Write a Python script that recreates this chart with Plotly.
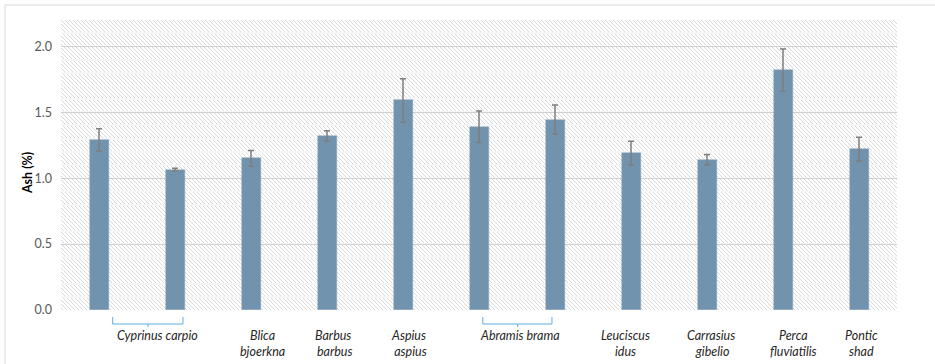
import base64
import plotly.graph_objects as go

# ---- data ----
species = ["Cyprinus carpio", "Cyprinus carpio", "Blica bjoerkna", "Barbus barbus",
           "Aspius aspius", "Abramis brama", "Abramis brama", "Leuciscus idus",
           "Carrasius gibelio", "Perca fluviatilis", "Pontic shad"]
ash = [1.29, 1.065, 1.15, 1.32, 1.59, 1.39, 1.445, 1.19, 1.14, 1.82, 1.22]
ash_err = [0.085, 0.01, 0.06, 0.04, 0.165, 0.12, 0.11, 0.09, 0.04, 0.16, 0.09]
y_ticks = [0.0, 0.5, 1.0, 1.5, 2.0]
y_tick_labels = ["0.0", "0.5", "1.0", "1.5", "2.0"]

# single-species labels (index, two-line text, pixel shift)
single_labels = [
    (2, "Blica<br>bjoerkna", 11),
    (3, "Barbus<br> barbus", 6),
    (4, "Aspius<br> aspius", 6),
    (7, "Leuciscus<br>idus", -6),
    (8, "Carrasius<br> gibelio", 4),
    (9, "Perca<br>fluviatilis", 10),
    (10, "Pontic<br>shad", 2),
]
# grouped labels (text, bracket start, bracket end, text centre, bracket tick) in category units
group_labels = [
    ("Cyprinus carpio", 0.18, 1.105, 0.77, 0.645),
    ("Abramis brama", 5.05, 5.96, 5.54, 5.51),
]

x = list(range(len(ash)))
W, H = 935, 364
ML, MR, MT, MB = 61, 38, 20, 54
PW, PH = W - ML - MR, H - MT - MB
YMAX = 2.2

# hatch background as svg
svg = f'''<svg xmlns="http://www.w3.org/2000/svg" width="{PW}" height="{PH}">
<defs><pattern id="h" patternUnits="userSpaceOnUse" width="4" height="4">
<path d="M-1,-1 L5,5 M-1,3 L1,5 M3,-1 L5,1" stroke="#d9d9d9" stroke-width="1"/>
</pattern></defs>
<rect width="{PW}" height="{PH}" fill="white"/>
<rect width="{PW}" height="{PH}" fill="url(#h)"/>
</svg>'''
src = "data:image/svg+xml;base64," + base64.b64encode(svg.encode()).decode()

fig = go.Figure()
fig.add_trace(go.Bar(
    x=x, y=ash, width=0.25,
    marker=dict(color="#7193ae", line=dict(color="#8aa7bf", width=0.5)),
    error_y=dict(type="data", array=ash_err, color="#7f7f7f", thickness=1.5, width=3),
    hoverinfo="skip",
))

font = "Lato, 'Open Sans', sans-serif"
ann = []
for i, txt, sh in single_labels:
    ann.append(dict(x=i, y=-16 / PH, xref="x", yref="paper", text=txt, showarrow=False,
                    xshift=sh, yanchor="top", xanchor="center",
                    font=dict(family=font, size=12.5, color="#262626", style="italic")))
shapes = []
for txt, x0, x1, xt, xm in group_labels:
    ann.append(dict(x=xt, y=-16 / PH, xref="x", yref="paper", text=txt, showarrow=False,
                    yanchor="top", xanchor="center",
                    font=dict(family=font, size=12.5, color="#262626", style="italic")))
    ytop = -7 / PH
    ybot = -14 / PH
    ytick = -17 / PH
    path = (f"M {x0},{ytop} L {x0},{ybot} L {x1},{ybot} L {x1},{ytop} "
            f"M {xm},{ybot} L {xm},{ytick}")
    shapes.append(dict(type="path", xref="x", yref="paper", path=path,
                       line=dict(color="#5aaee0", width=1)))

ann.append(dict(x=-34 / PW, y=0.472, xref="paper", yref="paper", text="<b>Ash (%)</b>",
                showarrow=False, textangle=-90, xanchor="center", yanchor="middle",
                font=dict(family=font, size=12.5, color="#000000")))

# outer frame
shapes.append(dict(type="rect", xref="paper", yref="paper",
                   x0=(5 - ML) / PW, x1=(W + 5 - ML) / PW,
                   y0=-(H + 5 - MT - PH) / PH, y1=(MT + PH - 5) / PH,
                   line=dict(color="#d9d9d9", width=1), layer="below"))

fig.update_layout(
    width=W, height=H,
    margin=dict(l=ML, r=MR, t=MT, b=MB),
    paper_bgcolor="white", plot_bgcolor="white",
    showlegend=False,
    bargap=0,
    annotations=ann, shapes=shapes,
    images=[dict(source=src, xref="x", yref="y", x=-0.5, y=YMAX, sizex=len(ash), sizey=YMAX,
                 xanchor="left", yanchor="top", sizing="stretch", layer="below")],
    xaxis=dict(range=[-0.5, len(ash) - 0.5], showticklabels=False, showgrid=False,
               zeroline=False, showline=False, ticks=""),
    yaxis=dict(range=[0, YMAX], tickvals=y_ticks, ticktext=y_tick_labels,
               showgrid=True, gridcolor="#d0d0d0", gridwidth=1,
               zeroline=False, showline=False, ticks="", ticklabelstandoff=8,
               tickfont=dict(family=font, size=12.5, color="#595959"),
               minor=dict(dtick=0.1, showgrid=True, gridcolor="#f6f6f6", gridwidth=2)),
)

fig.write_html("out.html")
